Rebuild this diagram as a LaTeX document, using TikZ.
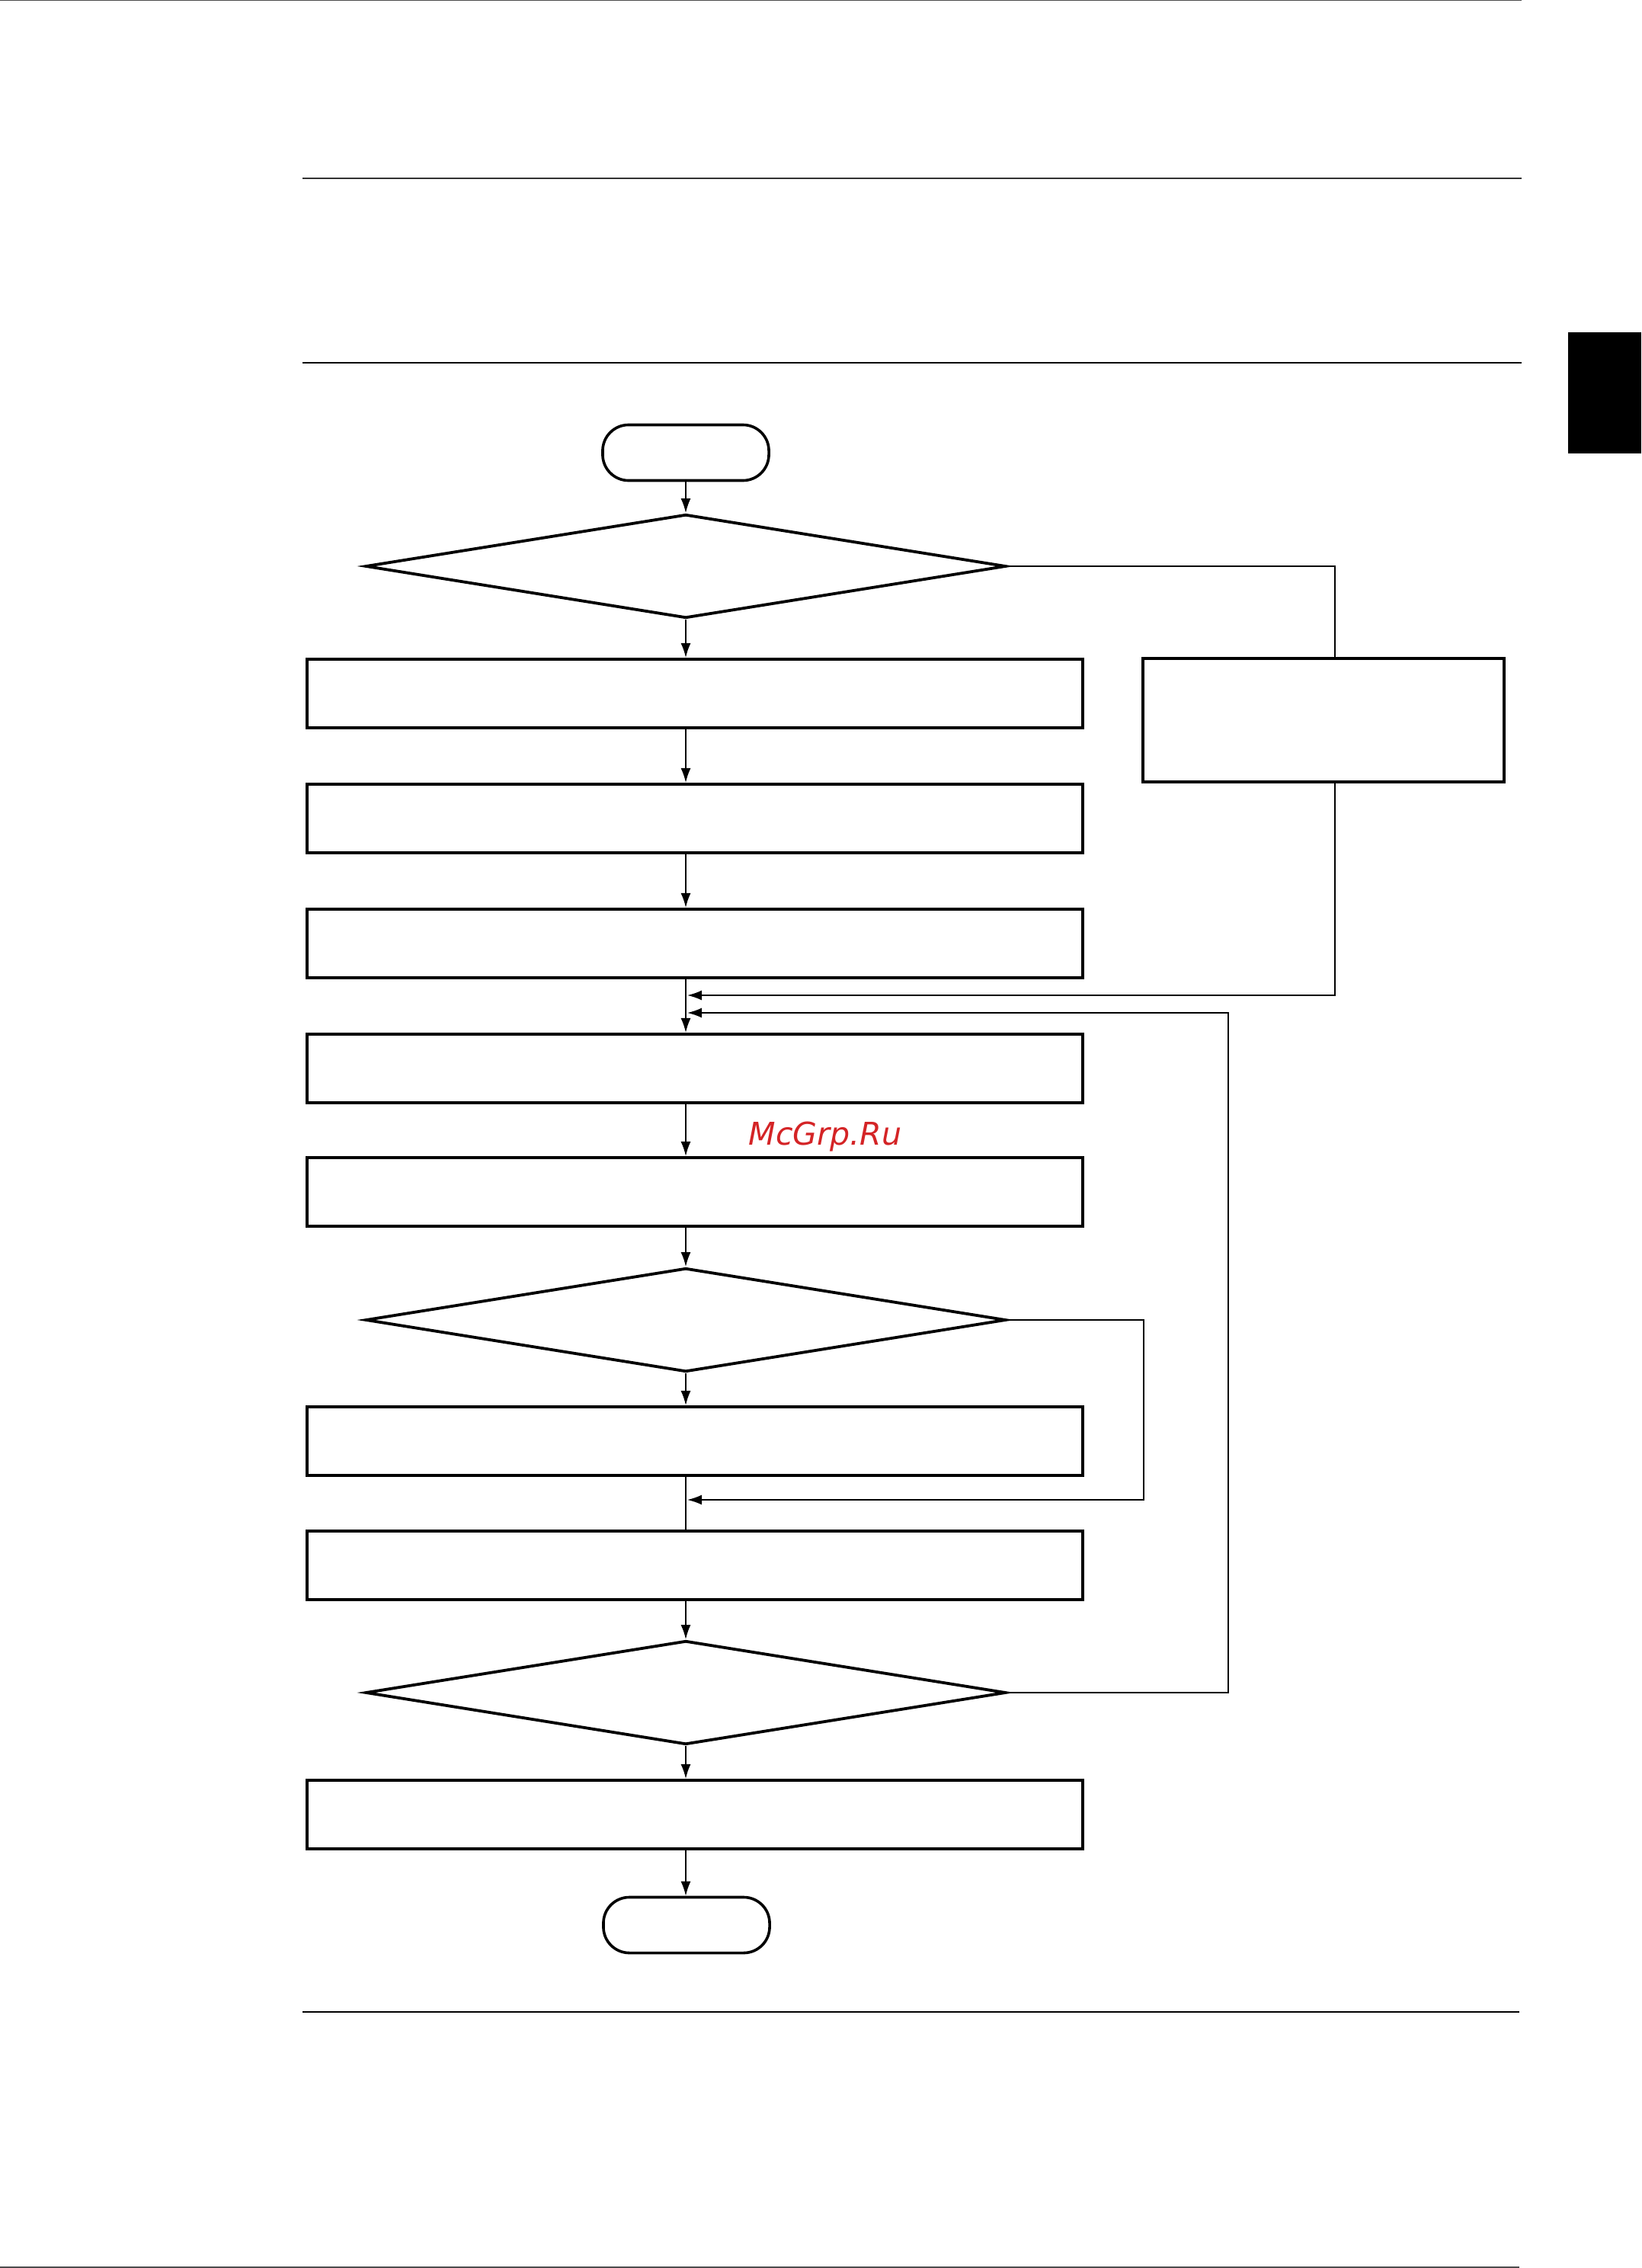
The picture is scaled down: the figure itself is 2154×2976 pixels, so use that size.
\documentclass[tikz,border=0pt]{standalone}
\usepackage{fontspec}
\newfontfamily\wmfont{DejaVu Sans}
\usepackage{tikz}
\usetikzlibrary{shapes.geometric,arrows.meta}
\definecolor{wmred}{RGB}{212,36,38}
\tikzset{
  procbox/.style={draw,line width=0.04cm,minimum width=10.18cm,minimum height=0.9cm,inner sep=0pt},
  decision/.style={draw,diamond,line width=0.038cm,minimum width=8.4cm,minimum height=1.36cm,inner sep=0pt},
  terminal/.style={draw,rectangle,rounded corners=0.34cm,line width=0.036cm,minimum width=2.18cm,minimum height=0.73cm,inner sep=0pt},
  link/.style={line width=0.018cm},
  arr/.style={link,-{Latex[length=0.19cm,width=0.13cm]}},
  rule/.style={line width=#1}
}

\begin{document}
\begin{tikzpicture}[x=0.01cm,y=-0.01cm]
    \useasboundingbox (0,0) rectangle (2154,2976);
    % page rules and tab
    \draw[rule=0.012cm,black!70] (0,0.6) -- (1997,0.6);
    \draw[rule=0.015cm,black!80] (397,234) -- (1997,234);
    \draw[rule=0.023cm] (397,476) -- (1997,476);
    \draw[rule=0.023cm] (397,2640) -- (1994,2640);
    \draw[rule=0.012cm,black!70] (0,2975) -- (1994,2975);
    \fill (2058,436) rectangle (2154,595);

    % flow
    \node[terminal] (start) at (900,594) {};
    \node[decision] (test1) at (900,743) {};
    \node[procbox] (proc1) at (912,910) {};
    \node[draw,line width=0.04cm,minimum width=4.74cm,minimum height=1.61cm,inner sep=0pt] (side) at (1737,945) {};
    \node[procbox] (proc2) at (912,1074) {};
    \node[procbox] (proc3) at (912,1238) {};
    \node[procbox] (proc4) at (912,1402) {};
    \node[procbox] (proc5) at (912,1564) {};
    \node[decision] (test2) at (900,1732) {};
    \node[procbox] (proc6) at (912,1891) {};
    \node[procbox] (proc7) at (912,2054) {};
    \node[decision] (test3) at (900,2221) {};
    \node[procbox] (proc8) at (912,2381) {};
    \node[terminal] (stop) at (901,2526) {};

    \coordinate (j1) at (1752,743);
    \coordinate (j2) at (1501,1732);
    \coordinate (j3) at (1612,2221);
    \coordinate (m1) at (902,1306);
    \coordinate (m2) at (902,1329);
    \coordinate (m3) at (902,1968);

    % main line
    \draw[arr] (start.south) -- (test1.north);
    \draw[arr] (test1.south) -- (proc1.north -| test1.south);
    \draw[arr] (proc1.south -| start.south) -- (proc2.north -| start.south);
    \draw[arr] (proc2.south -| start.south) -- (proc3.north -| start.south);
    \draw[arr] (proc3.south -| start.south) -- (proc4.north -| start.south);
    \draw[arr] (proc4.south -| start.south) -- (proc5.north -| start.south);
    \draw[arr] (proc5.south -| start.south) -- (test2.north);
    \draw[arr] (test2.south) -- (proc6.north -| test2.south);
    \draw[link] (proc6.south -| start.south) -- (proc7.north -| start.south);
    \draw[arr] (proc7.south -| start.south) -- (test3.north);
    \draw[arr] (test3.south) -- (proc8.north -| test3.south);
    \draw[arr] (proc8.south -| start.south) -- (stop.north -| start.south);

    % branches
    \draw[link] (test1.east) -- (j1) -- (j1 |- side.north);
    \draw[arr] (j1 |- side.south) |- (m1);
    \draw[arr] (test2.east) -- (j2) |- (m3);
    \draw[arr] (test3.east) -- (j3) |- (m2);

    \node[anchor=base,text=wmred,font=\wmfont\itshape\fontsize{11.7pt}{13pt}\selectfont,inner sep=0pt] (mark) at (1083,1502) {McGrp.Ru};
\end{tikzpicture}
\end{document}
